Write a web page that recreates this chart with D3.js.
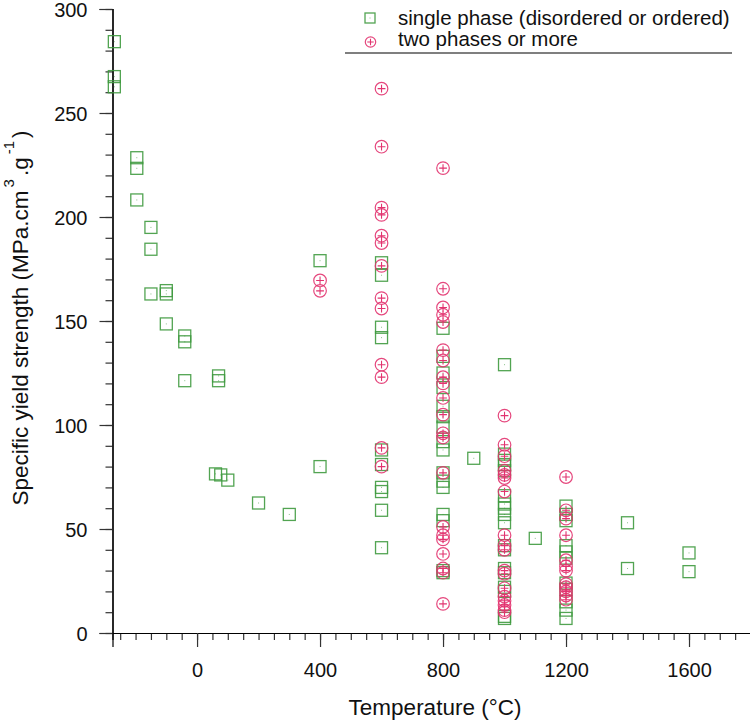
<!DOCTYPE html>
<html><head><meta charset="utf-8">
<script src="https://cdn.jsdelivr.net/npm/d3@7"></script>
<style>body{margin:0;background:#fff}svg{display:block;font-family:Arial,"Liberation Sans",sans-serif}</style>
</head><body><svg id="c" width="750" height="722"></svg>
<script>
// ---- data ----
const singleTemps = [-269,-269,-269,-196,-196,-196,-150,-150,-150,-100,-100,-100,-40,-40,-40,60,70,70,77,100,200,300,400,400,
 600,600,600,600,600,600,600,600,600,600,
 800,800,800,800,800,800,800,800,800,800,800,800,800,800,800,800,
 900,
 1000,1000,1000,1000,1000,1000,1000,1000,1000,1000,1000,1000,1000,1000,1000,1000,1000,1000,
 1100,
 1200,1200,1200,1200,1200,1200,1200,1200,1200,1200,1200,
 1400,1400,1600,1600];
const singleValues = [284.3,267.5,262.6,228.5,223.4,208.2,195,184.5,163,164.6,163,148.6,142.8,140,121.3,76.5,123.6,121.3,76,73.5,62.5,57,179,80,
 178,172,147,142,88,81,70,68,59,41,
 146.5,133,125,118,109,104,99,92,88,77,73,70,57,54,30,29,
 84,
 129,86,83,81,78,66,62,60,57,53,42,40,31,29,22,20,8,7,
 45.5,
 61,57,54,42,39,36,24,21,15,11,7,
 53,31,38.5,29.5];
const multiTemps = [400,400,
 600,600,600,600,600,600,600,600,600,600,600,600,600,
 800,800,800,800,800,800,800,800,800,800,800,800,800,800,800,800,800,800,800,800,800,
 1000,1000,1000,1000,1000,1000,1000,1000,1000,1000,1000,1000,1000,1000,1000,1000,1000,1000,
 1200,1200,1200,1200,1200,1200,1200,1200,1200,1200,1200,1200];
const multiValues = [169.5,164.5,
 261.7,233.8,204.5,201,191,187.5,176.5,161,156,129,123,89,80,
 223.5,165.5,156.5,153,149.5,136,131,123,120,113,105,96,94,77,51,47,45,38,31,29,14,
 104.5,90.5,85,78,76,74.5,68,47,42,40,30,28.5,21.5,17.5,15.5,13.5,11,10,
 75,59,55,47,35,32,30,23.5,22,20,18,16];
const xTickLabels = [0,400,800,1200,1600];
const yTickLabels = [0,50,100,150,200,250,300];
const legendLabels = ["single phase (disordered or ordered)","two phases or more"];

// ---- drawing ----
const svg = d3.select("#c");
const x = d3.scaleLinear().domain([-275,1800]).range([112.5,750.5]);
const y = d3.scaleLinear().domain([0,300]).range([633,9]);
const GREEN = "#3f9a3f", PINK = "#e2336f";

const gx = svg.append("g").attr("transform","translate(0,633)");
gx.call(d3.axisBottom(x).tickValues(d3.range(-250,1800,50)).tickSize(7).tickFormat(""));
gx.append("g").call(d3.axisBottom(x).tickValues(xTickLabels).tickSize(14).tickPadding(16).tickFormat(d3.format("d")));
gx.selectAll("path.domain").attr("stroke","#000").attr("stroke-width",1.2);
gx.selectAll("line").attr("stroke","#333").attr("stroke-width",1.2);
gx.selectAll("text").attr("font-size",20).attr("fill","#111").attr("font-family","Arial, Liberation Sans, sans-serif");

const gy = svg.append("g").attr("transform","translate(112.5,0)");
gy.call(d3.axisLeft(y).tickValues(d3.range(0,301,10)).tickSize(7).tickFormat(""));
gy.append("g").call(d3.axisLeft(y).tickValues(yTickLabels).tickSize(13).tickPadding(12).tickFormat(d3.format("d")));
gy.selectAll("path.domain").attr("stroke","#000").attr("stroke-width",1.2);
gy.selectAll("line").attr("stroke","#333").attr("stroke-width",1.2);
gy.selectAll("text").attr("font-size",20).attr("fill","#111").attr("dy","0.36em").attr("font-family","Arial, Liberation Sans, sans-serif");

// axis titles
svg.append("text").attr("x",435).attr("y",715).attr("text-anchor","middle")
  .attr("font-size",22.5).attr("fill","#111").text("Temperature (°C)");
const yt = svg.append("text").attr("transform","translate(28,318) rotate(-90)").attr("text-anchor","middle")
  .attr("font-size",22.5).attr("fill","#111");
yt.append("tspan").text("Specific yield strength (MPa.cm");
yt.append("tspan").attr("dy",-14).attr("dx",3).attr("font-size",15).text("3");
yt.append("tspan").attr("dy",14).attr("dx",3).text(".g");
yt.append("tspan").attr("dy",-14).attr("dx",3).attr("font-size",15).text("-1");
yt.append("tspan").attr("dy",14).attr("dx",3).text(")");

// markers
function square(g, cx, cy, s){
  g.append("rect").attr("x",cx-s/2).attr("y",cy-s/2).attr("width",s).attr("height",s)
    .attr("fill","none").attr("stroke",GREEN).attr("stroke-width",1.3).attr("stroke-opacity",0.9);
  g.append("rect").attr("x",cx-0.5).attr("y",cy-0.5).attr("width",1).attr("height",1).attr("fill",GREEN).attr("opacity",0.6);
}
function circ(g, cx, cy, r){
  g.append("circle").attr("cx",cx).attr("cy",cy).attr("r",r).attr("fill","none")
    .attr("stroke",PINK).attr("stroke-width",1.2).attr("stroke-opacity",0.9);
  const h = r*0.62;
  g.append("path").attr("d",`M${cx-h},${cy}H${cx+h}M${cx},${cy-h}V${cy+h}`).attr("stroke",PINK).attr("stroke-width",1.1);
}
const gs = svg.append("g");
singleTemps.forEach((t,i)=>square(gs, x(t), y(singleValues[i]), 12));
const gm = svg.append("g");
multiTemps.forEach((t,i)=>circ(gm, x(t), y(multiValues[i]), 6.3));

// legend
const lg = svg.append("g");
square(lg, 370, 18, 10);
circ(lg, 370.5, 42, 5.2);
lg.append("text").attr("x",398).attr("y",25).attr("font-size",20.5).attr("fill","#111").text(legendLabels[0]);
lg.append("text").attr("x",398).attr("y",46).attr("font-size",20.5).attr("fill","#111").text(legendLabels[1]);
lg.append("line").attr("x1",345).attr("x2",732).attr("y1",53).attr("y2",53).attr("stroke","#000").attr("stroke-width",1.2);
</script></body></html>
